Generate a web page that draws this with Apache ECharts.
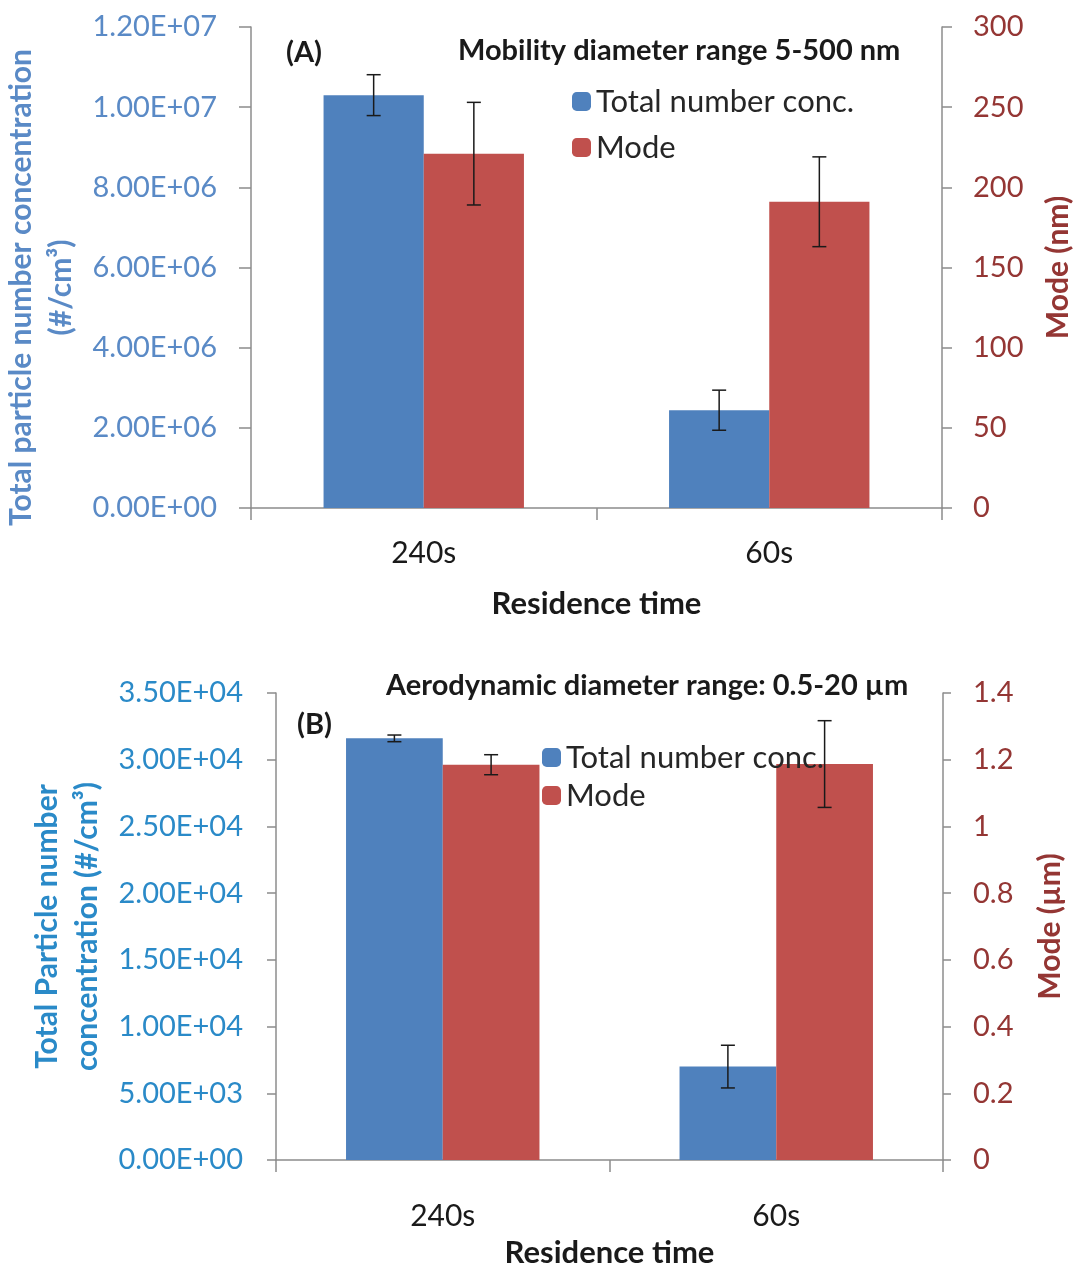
<!DOCTYPE html>
<html>
<head>
<meta charset="utf-8">
<script src="https://cdn.jsdelivr.net/npm/echarts@6/dist/echarts.min.js"></script>
<style>
  html, body { margin: 0; padding: 0; background: #fff; }
  #chart { width: 1077px; height: 1271px; }
</style>
</head>
<body>
<div id="chart"></div>
<script>
  // categories and values
  var categories = ['240s', '60s'];

  // (A) mobility diameter 5-500 nm
  var concA = [1.03e7, 2.44e6];
  var concAErr = [0.51e6, 0.5e6];
  var modeA = [221, 191];
  var modeAErr = [32, 28];

  // (B) aerodynamic diameter 0.5-20 µm
  var concB = [31600, 7000];
  var concBErr = [250, 1600];
  var modeB = [1.185, 1.187];
  var modeBErr = [0.03, 0.13];

  var BLUE = '#4f81bd', RED = '#c0504d';
  var AXIS = '#8c8c8c';
  var FONT = 'Lato';
  var BAR_PCT = 0.29;

  function sci(v) {
    if (v === 0) return '0.00E+00';
    var e = Math.floor(Math.log10(v) + 1e-9);
    var m = v / Math.pow(10, e);
    return m.toFixed(2) + 'E' + (e < 0 ? '-' : '+') + (Math.abs(e) < 10 ? '0' : '') + Math.abs(e);
  }

  function errData(vals, errs) {
    return vals.map(function (v, i) { return [i, v - errs[i], v + errs[i]]; });
  }

  // error bar on the blue (side -1) or red (side +1) bar of a group
  function errRender(side) {
    return function (params, api) {
      var x = api.value(0);
      var lo = api.coord([x, api.value(1)]);
      var hi = api.coord([x, api.value(2)]);
      var band = api.size([1, 0])[0];
      var cx = lo[0] + side * band * BAR_PCT / 2;
      var cap = 7;
      var st = { stroke: '#1a1a1a', lineWidth: 1.5 };
      return {
        type: 'group',
        children: [
          { type: 'line', shape: { x1: cx, y1: lo[1], x2: cx, y2: hi[1] }, style: st },
          { type: 'line', shape: { x1: cx - cap, y1: hi[1], x2: cx + cap, y2: hi[1] }, style: st },
          { type: 'line', shape: { x1: cx - cap, y1: lo[1], x2: cx + cap, y2: lo[1] }, style: st }
        ]
      };
    };
  }

  function yAxis(grid, pos, min, max, interval, color, name, gap, margin, tick, fmt, pad) {
    return {
      type: 'value', gridIndex: grid, position: pos, min: min, max: max, interval: interval,
      name: name, nameLocation: 'middle', nameGap: gap, nameRotate: 90,
      nameTextStyle: { color: color, fontSize: 30, fontWeight: 'bold', fontFamily: FONT, lineHeight: 40, padding: pad || 0 },
      axisLine: { show: true, lineStyle: { color: AXIS, width: 1.5 } },
      axisTick: { show: true, length: tick, lineStyle: { color: AXIS, width: 1.5 } },
      axisLabel: { color: color, fontSize: 29, fontFamily: FONT, margin: margin, formatter: fmt },
      splitLine: { show: false }
    };
  }

  function xAxis(grid, gap, margin) {
    return {
      type: 'category', gridIndex: grid, data: categories,
      name: 'Residence time', nameLocation: 'middle', nameGap: gap,
      nameTextStyle: { color: '#1a1a1a', fontSize: 31, fontWeight: 'bold', fontFamily: FONT },
      axisLine: { lineStyle: { color: AXIS, width: 1.5 } },
      axisTick: { show: true, length: 12, lineStyle: { color: AXIS, width: 1.5 } },
      axisLabel: { color: '#1a1a1a', fontSize: 30, fontFamily: FONT, margin: margin }
    };
  }

  function bar(name, color, x, y, data) {
    return {
      name: name, type: 'bar', xAxisIndex: x, yAxisIndex: y, data: data,
      barWidth: (BAR_PCT * 100) + '%', barGap: '0%',
      itemStyle: { color: color }
    };
  }

  function err(x, y, vals, errs, side) {
    return {
      type: 'custom', xAxisIndex: x, yAxisIndex: y, z: 5,
      renderItem: errRender(side), data: errData(vals, errs),
      encode: { x: 0, y: [1, 2] }, silent: true
    };
  }

  var chart = echarts.init(document.getElementById('chart'));

  var legendText = { fontSize: 31, fontFamily: FONT, color: '#262626' };
  var titleText = { fontSize: 29, fontWeight: 'bold', fontFamily: FONT, color: '#1a1a1a' };

  var option = {
    backgroundColor: '#fff',
    animation: false,
    title: [
      { text: '(A)', left: 281, top: 33, textStyle: titleText },
      { text: 'Mobility diameter range 5-500 nm', left: 453, top: 31, textStyle: titleText },
      { text: '(B)', left: 292, top: 705, textStyle: titleText },
      { text: 'Aerodynamic diameter range: 0.5-20 µm', left: 381, top: 666, textStyle: titleText }
    ],
    legend: [
      { orient: 'vertical', left: 567, top: 81, itemWidth: 19, itemHeight: 19, itemGap: 15,
        textStyle: legendText, data: ['Total number conc.', 'Mode'] },
      { orient: 'vertical', left: 537, top: 737, itemWidth: 19, itemHeight: 19, itemGap: 7,
        textStyle: legendText, data: ['Total number conc.', 'Mode'] }
    ],
    grid: [
      { left: 251, right: 135, top: 27, height: 481, outerBoundsMode: 'none' },
      { left: 276, right: 134, top: 693, height: 467, outerBoundsMode: 'none' }
    ],
    xAxis: [xAxis(0, 80, 30), xAxis(1, 77, 41)],
    yAxis: [
      yAxis(0, 'left', 0, 1.2e7, 2e6, '#5a8ac6', 'Total particle number concentration\n(#/cm³)', 164, 34, 12, sci, [0, 40, 0, 0]),
      yAxis(0, 'right', 0, 300, 50, '#943634', 'Mode (nm)', 96, 31, 10),
      yAxis(1, 'left', 0, 35000, 5000, '#2a8ac8', 'Total Particle number\nconcentration (#/cm³)', 168, 33, 9, sci),
      yAxis(1, 'right', 0, 1.4, 0.2, '#943634', 'Mode (µm)', 87, 30, 8)
    ],
    series: [
      bar('Total number conc.', BLUE, 0, 0, concA),
      bar('Mode', RED, 0, 1, modeA),
      err(0, 0, concA, concAErr, -1),
      err(0, 1, modeA, modeAErr, 1),
      bar('Total number conc.', BLUE, 1, 2, concB),
      bar('Mode', RED, 1, 3, modeB),
      err(1, 2, concB, concBErr, -1),
      err(1, 3, modeB, modeBErr, 1)
    ]
  };

  chart.setOption(option);
</script>
</body>
</html>
